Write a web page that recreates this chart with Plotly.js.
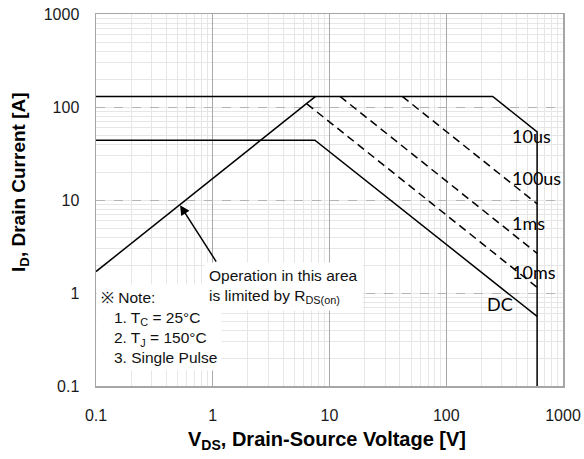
<!DOCTYPE html>
<html>
<head>
<meta charset="utf-8">
<script src="https://cdn.plot.ly/plotly-3.0.1.min.js"></script>
<style>
  html, body { margin: 0; padding: 0; background: #ffffff; }
  #chart { width: 584px; height: 459px; }
</style>
</head>
<body>
<div id="chart"></div>
<script>
// ---- Data ----
const vdsTickVals = [0.1, 1, 10, 100, 1000];
const vdsTickText = ["0.1", "1", "10", "100", "1000"];
const idTickVals = [0.1, 1, 10, 100, 1000];
const idTickText = ["0.1", "1", "10", "100", "1000"];

// R_DS(on) limited line
const rdsV = [0.1, 7.6];
const rdsI = [1.7, 130];
// 10us boundary (solid envelope)
const us10V = [0.1, 250, 600, 600];
const us10I = [130, 130, 54, 0.1];
// DC
const dcV = [0.1, 7.5, 600];
const dcI = [44, 44, 0.56];
// 100us (dashed)
const us100V = [42, 600];
const us100I = [130, 9.1];
// 1ms (dashed)
const ms1V = [12.3, 600];
const ms1I = [130, 2.67];
// 10ms (dashed)
const ms10V = [6.4, 600];
const ms10I = [108, 1.15];

const curveLabels = ["10us", "100us", "1ms", "10ms", "DC"];
const labelV = [353, 353, 353, 353, 215];
const labelI = [48.7, 17.3, 5.66, 1.68, 0.76];

// ---- Traces ----
const solid = {color: "#000000", width: 1.5};
const dashed = {color: "#000000", width: 1.5, dash: "8px,5px"};
function tr(x, y, line) {
  return {x: x, y: y, type: "scatter", mode: "lines", line: line,
          hoverinfo: "skip", showlegend: false};
}
const data = [
  tr(rdsV, rdsI, solid),
  tr(us10V, us10I, solid),
  tr(dcV, dcI, solid),
  tr(us100V, us100I, dashed),
  tr(ms1V, ms1I, dashed),
  tr(ms10V, ms10I, dashed)
];

const baseFont = "Liberation Sans, Arial, Helvetica, sans-serif";
const labelFont = "Lato, Carlito, Calibri, sans-serif";

const annotations = curveLabels.map((t, i) => ({
  text: t, x: Math.log10(labelV[i]), y: Math.log10(labelI[i]),
  xref: "x", yref: "y", xanchor: "left", yanchor: "middle",
  showarrow: false, font: {family: labelFont, size: 18, color: "#000"}
}));

annotations.push({
  text: "\u203B Note:<br>\u00a0\u00a0\u00a01. T<sub>C</sub> = 25\u00b0C<br>\u00a0\u00a0\u00a02. T<sub>J</sub> = 150\u00b0C<br>\u00a0\u00a0\u00a03. Single Pulse",
  xref: "paper", yref: "paper", x: 0, y: (386 - 284) / 372,
  xanchor: "left", yanchor: "top", align: "left", showarrow: false,
  bgcolor: "#ffffff", borderpad: 4,
  font: {family: baseFont, size: 15.5, color: "#111"}
});
annotations.push({
  text: "Operation in this area<br>is limited by R<sub>DS(on)</sub>",
  xref: "paper", yref: "paper", x: (204 - 96) / 467, y: (386 - 262) / 372,
  xanchor: "left", yanchor: "top", align: "left", showarrow: false,
  bgcolor: "#ffffff", borderpad: 4,
  font: {family: baseFont, size: 15.5, color: "#111"}
});
// Arrow pointing at the R_DS(on) line
annotations.push({
  text: "", xref: "x", yref: "y", axref: "x", ayref: "y",
  x: Math.log10(0.525), y: Math.log10(8.8),
  ax: Math.log10(1.09), ay: Math.log10(2.1),
  showarrow: true, arrowhead: 2, arrowsize: 1.3, arrowwidth: 1.5,
  arrowcolor: "#000", standoff: 0, startstandoff: 0
});
// Axis titles
annotations.push({
  text: "<b>I<sub>D</sub>, Drain Current [A]</b>",
  xref: "paper", yref: "paper", x: (20 - 96) / 467, y: (386 - 182) / 372,
  xanchor: "center", yanchor: "middle", textangle: -90, showarrow: false,
  font: {family: baseFont, size: 19, color: "#000"}
});
annotations.push({
  text: "<b>V<sub>DS</sub>, Drain-Source Voltage [V]</b>",
  xref: "paper", yref: "paper", x: (327 - 96) / 467, y: (386 - 440) / 372,
  xanchor: "center", yanchor: "middle", showarrow: false,
  font: {family: baseFont, size: 20, color: "#000"}
});

const axisCommon = {
  type: "log", range: [-1, 3], showgrid: true, gridwidth: 1,
  showline: true, mirror: true, linecolor: "#a6a6a6", linewidth: 1.5,
  zeroline: false, ticks: "", tickmode: "array",
  tickfont: {family: baseFont, size: 16, color: "#1a1a1a"},
  minor: {dtick: "D1", showgrid: true, gridcolor: "#e6e6e6", gridwidth: 1,
          griddash: "solid", ticks: ""}
};

const layout = {
  width: 584, height: 459,
  margin: {l: 96, r: 21, t: 14, b: 73, pad: 0},
  paper_bgcolor: "#ffffff", plot_bgcolor: "#ffffff",
  showlegend: false,
  xaxis: Object.assign({}, axisCommon, {
    tickvals: vdsTickVals, ticktext: vdsTickText,
    gridcolor: "#a8a8a8", ticklabelstandoff: 14
  }),
  yaxis: Object.assign({}, axisCommon, {
    tickvals: idTickVals, ticktext: idTickText,
    gridcolor: "#b4b4b4", griddash: "dash", ticklabelstandoff: 12
  }),
  annotations: annotations
};

Plotly.newPlot("chart", data, layout, {staticPlot: true, displayModeBar: false});
</script>
</body>
</html>
